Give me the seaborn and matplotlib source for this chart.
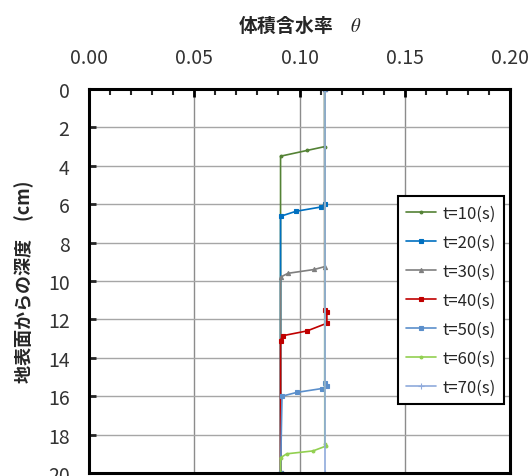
"""Water content profiles: wetting front advancing with time."""

import matplotlib

matplotlib.use("Agg")
import matplotlib.pyplot as plt
import pandas as pd
import seaborn as sns
from matplotlib.ticker import FormatStrFormatter, MultipleLocator

# series: time label, volumetric water content, depth (cm)
labels = ["t=10(s)", "t=20(s)", "t=30(s)", "t=40(s)", "t=50(s)", "t=60(s)", "t=70(s)"]

theta_10 = [0.112, 0.112, 0.1036, 0.091, 0.091]
depth_10 = [0.0, 3.0, 3.2, 3.5, 20.0]

theta_20 = [0.112, 0.112, 0.110, 0.0983, 0.091, 0.091]
depth_20 = [0.0, 6.0, 6.15, 6.37, 6.63, 20.0]

theta_30 = [0.112, 0.112, 0.107, 0.0945, 0.091, 0.091]
depth_30 = [0.0, 9.25, 9.4, 9.6, 9.8, 20.0]

theta_40 = [0.112, 0.112, 0.113, 0.113, 0.1036, 0.092, 0.091, 0.091]
depth_40 = [0.0, 11.5, 11.6, 12.2, 12.6, 12.85, 13.1, 20.0]

theta_50 = [0.112, 0.112, 0.113, 0.1107, 0.0988, 0.0917, 0.091]
depth_50 = [0.0, 15.3, 15.45, 15.6, 15.8, 16.0, 20.0]

theta_60 = [0.112, 0.112, 0.1125, 0.1064, 0.094, 0.091, 0.091]
depth_60 = [0.0, 18.5, 18.6, 18.85, 19.0, 19.2, 20.0]

theta_70 = [0.112, 0.112]
depth_70 = [0.0, 20.0]

thetas = [theta_10, theta_20, theta_30, theta_40, theta_50, theta_60, theta_70]
depths = [depth_10, depth_20, depth_30, depth_40, depth_50, depth_60, depth_70]

colors = ["#548235", "#0070C0", "#7F7F7F", "#C00000", "#5B8FCB", "#92D050", "#8FAADC"]
markers = [".", "s", "^", "s", "s", ".", "+"]
msizes = [4, 3, 3, 3.5, 3, 4, 5]

sns.set_style("white")
plt.rcParams["font.family"] = ["Noto Sans CJK JP", "DejaVu Sans"]
plt.rcParams["mathtext.fontset"] = "stix"

fig = plt.figure(figsize=(5.30, 4.77), dpi=100)
ax = fig.add_axes([89 / 530, 1 - 474 / 477, (510 - 89) / 530, (474 - 90) / 477])

for lab, th, dp, c, m, ms in zip(labels, thetas, depths, colors, markers, msizes):
    df = pd.DataFrame({"theta": th, "depth": dp})
    sns.lineplot(
        data=df, x="theta", y="depth", sort=False, estimator=None, ax=ax,
        color=c, marker=m, markersize=ms, markeredgewidth=0.8,
        markeredgecolor=c, linewidth=1.2, label=lab,
    )

ax.set_xlim(0, 0.20)
ax.set_ylim(20, 0)
ax.xaxis.tick_top()
ax.xaxis.set_label_position("top")
ax.xaxis.set_major_locator(MultipleLocator(0.05))
ax.xaxis.set_minor_locator(MultipleLocator(0.01))
ax.xaxis.set_major_formatter(FormatStrFormatter("%.2f"))
ax.yaxis.set_major_locator(MultipleLocator(2))

ax.grid(False)
for x in [0.05, 0.10, 0.15]:
    ax.axvline(x, color="#8C8C8C", linewidth=1.0, zorder=0)
for y in range(2, 20, 2):
    ax.axhline(y, color="#A6A6A6", linewidth=1.0, zorder=0)

for sp in ax.spines.values():
    sp.set_visible(True)
    sp.set_color("black")
    sp.set_linewidth(2.2)

ax.tick_params(axis="x", which="major", direction="in", top=True, bottom=False,
               length=6, width=2, labelsize=14, pad=15, colors="black",
               labelcolor="#333333")
ax.tick_params(axis="x", which="minor", direction="in", top=True, bottom=False,
               length=4, width=1.5)
ax.tick_params(axis="y", which="major", direction="in", left=True,
               length=5, width=2, labelsize=14, pad=14, labelcolor="#333333")

ax.set_xlabel("体積含水率　$\\theta$", fontsize=13.5, fontweight="bold", labelpad=12)
ax.set_ylabel("地表面からの深度　(cm)", fontsize=13, fontweight="bold", labelpad=10)

leg = ax.legend(
    loc="upper left", bbox_to_anchor=(398 / 530, 1 - 197 / 477),
    bbox_transform=fig.transFigure, fontsize=12, frameon=True, fancybox=False,
    framealpha=1, edgecolor="black", handlelength=1.8, handletextpad=0.35,
    labelspacing=0.72, borderpad=0.5, borderaxespad=0,
)
leg.get_frame().set_linewidth(1.5)

fig.savefig("out.png", dpi=100)
